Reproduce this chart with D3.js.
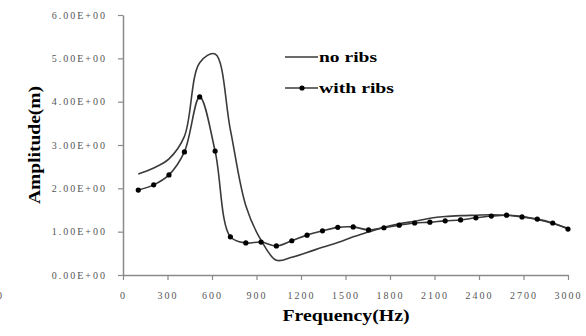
<!DOCTYPE html>
<html>
<head>
<meta charset="utf-8">
<script src="https://cdn.jsdelivr.net/npm/d3@7"></script>
<style>
  body { margin: 0; background: #fff; }
  svg { display: block; }
</style>
</head>
<body>
<div id="chart"></div>
<script>
// frequencies (Hz) of the sampled points
const freqs = [103, 207, 310, 414, 517, 621, 724, 828, 931, 1034, 1138, 1241, 1345, 1448, 1552,
  1655, 1759, 1862, 1966, 2069, 2172, 2276, 2379, 2483, 2586, 2690, 2793, 2897, 3000];

// amplitude without ribs
const noRibs = [2.33, 2.47, 2.68, 3.2, 4.9, 5.1, 3.35, 1.6, 0.8, 0.34, 0.41, 0.52, 0.64, 0.75, 0.88,
  0.99, 1.1, 1.18, 1.24, 1.31, 1.35, 1.37, 1.38, 1.39, 1.38, 1.35, 1.28, 1.19, 1.08];

// amplitude with ribs
const withRibs = [1.96, 2.08, 2.31, 2.84, 4.11, 2.86, 0.88, 0.74, 0.76, 0.67, 0.79, 0.92, 1.02, 1.1, 1.11,
  1.04, 1.09, 1.15, 1.2, 1.22, 1.25, 1.27, 1.32, 1.36, 1.38, 1.34, 1.29, 1.2, 1.06];

const xTicks = [0, 300, 600, 900, 1200, 1500, 1800, 2100, 2400, 2700, 3000];
const yTicks = [0, 1, 2, 3, 4, 5, 6];
const seriesNames = ['no ribs', 'with ribs'];

const W = 586, H = 336;
const svg = d3.select('#chart').append('svg').attr('width', W).attr('height', H);

const x = d3.scaleLinear().domain([0, 3000]).range([123, 568]);
const y = d3.scaleLinear().domain([0, 6]).range([275, 15]);

const axisColor = '#8a8a8a';
const labelFont = '"Liberation Serif", "Times New Roman", serif';

// x axis
const gx = svg.append('g').attr('transform', `translate(0,${y(0)})`)
  .call(d3.axisBottom(x).tickValues(xTicks).tickSize(5).tickSizeOuter(0).tickPadding(12)
    .tickFormat(d3.format('d')));
gx.select('.domain').attr('stroke', axisColor).attr('stroke-width', 1.5);
gx.selectAll('.tick line').attr('stroke', axisColor).attr('stroke-width', 1.2);
gx.selectAll('.tick text').attr('fill', '#555').style('font-family', labelFont)
  .style('font-size', '10px').style('letter-spacing', '2px');

// y axis
const gy = svg.append('g').attr('transform', `translate(${x(0)},0)`)
  .call(d3.axisLeft(y).tickValues(yTicks).tickSize(5).tickSizeOuter(0).tickPadding(11)
    .tickFormat(d => d3.format('.2f')(d) + 'E+00'));
gy.select('.domain').attr('stroke', axisColor).attr('stroke-width', 1.5);
gy.selectAll('.tick line').attr('stroke', axisColor).attr('stroke-width', 1.2);
gy.selectAll('.tick text').attr('fill', '#555').style('font-family', labelFont)
  .style('font-size', '10px').style('letter-spacing', '2px');

// stray label from neighbouring figure, cut at the left edge as in the source
svg.append('text').attr('x', -3).attr('y', 299).text('0')
  .attr('fill', '#555').style('font-family', labelFont).style('font-size', '10px');

// axis titles
svg.append('text').attr('x', 346).attr('y', 321).attr('text-anchor', 'middle')
  .attr('textLength', 127).attr('lengthAdjust', 'spacingAndGlyphs')
  .style('font-family', labelFont).style('font-weight', 'bold').style('font-size', '17px')
  .text('Frequency(Hz)');

svg.append('text').attr('transform', 'translate(40,145) rotate(-90)').attr('text-anchor', 'middle')
  .attr('textLength', 118).attr('lengthAdjust', 'spacingAndGlyphs')
  .style('font-family', labelFont).style('font-weight', 'bold').style('font-size', '16px')
  .text('Amplitude(m)');

// lines
const line = d3.line().x(d => x(d[0])).y(d => y(d[1])).curve(d3.curveCatmullRom.alpha(0.5));
const lineColor = '#3a3a3a';

svg.append('path').datum(freqs.map((f, i) => [f, noRibs[i]]))
  .attr('fill', 'none').attr('stroke', lineColor).attr('stroke-width', 1.6).attr('d', line);

const ribsData = freqs.map((f, i) => [f, withRibs[i]]);
svg.append('path').datum(ribsData)
  .attr('fill', 'none').attr('stroke', lineColor).attr('stroke-width', 1.6).attr('d', line);
svg.selectAll('circle.m').data(ribsData).enter().append('circle').attr('class', 'm')
  .attr('cx', d => x(d[0])).attr('cy', d => y(d[1])).attr('r', 2.6).attr('fill', '#000');

// legend
const legend = svg.append('g');
const legY = [57, 88];
const legLen = [58, 75];
seriesNames.forEach((name, i) => {
  legend.append('line').attr('x1', 285).attr('x2', 318).attr('y1', legY[i]).attr('y2', legY[i])
    .attr('stroke', lineColor).attr('stroke-width', 1.6);
  if (i === 1) legend.append('circle').attr('cx', 302).attr('cy', legY[i]).attr('r', 2.6).attr('fill', '#000');
  legend.append('text').attr('x', 319).attr('y', legY[i] + 5)
    .attr('textLength', legLen[i]).attr('lengthAdjust', 'spacingAndGlyphs')
    .style('font-family', labelFont).style('font-weight', 'bold').style('font-size', '15px')
    .text(name);
});
</script>
</body>
</html>
